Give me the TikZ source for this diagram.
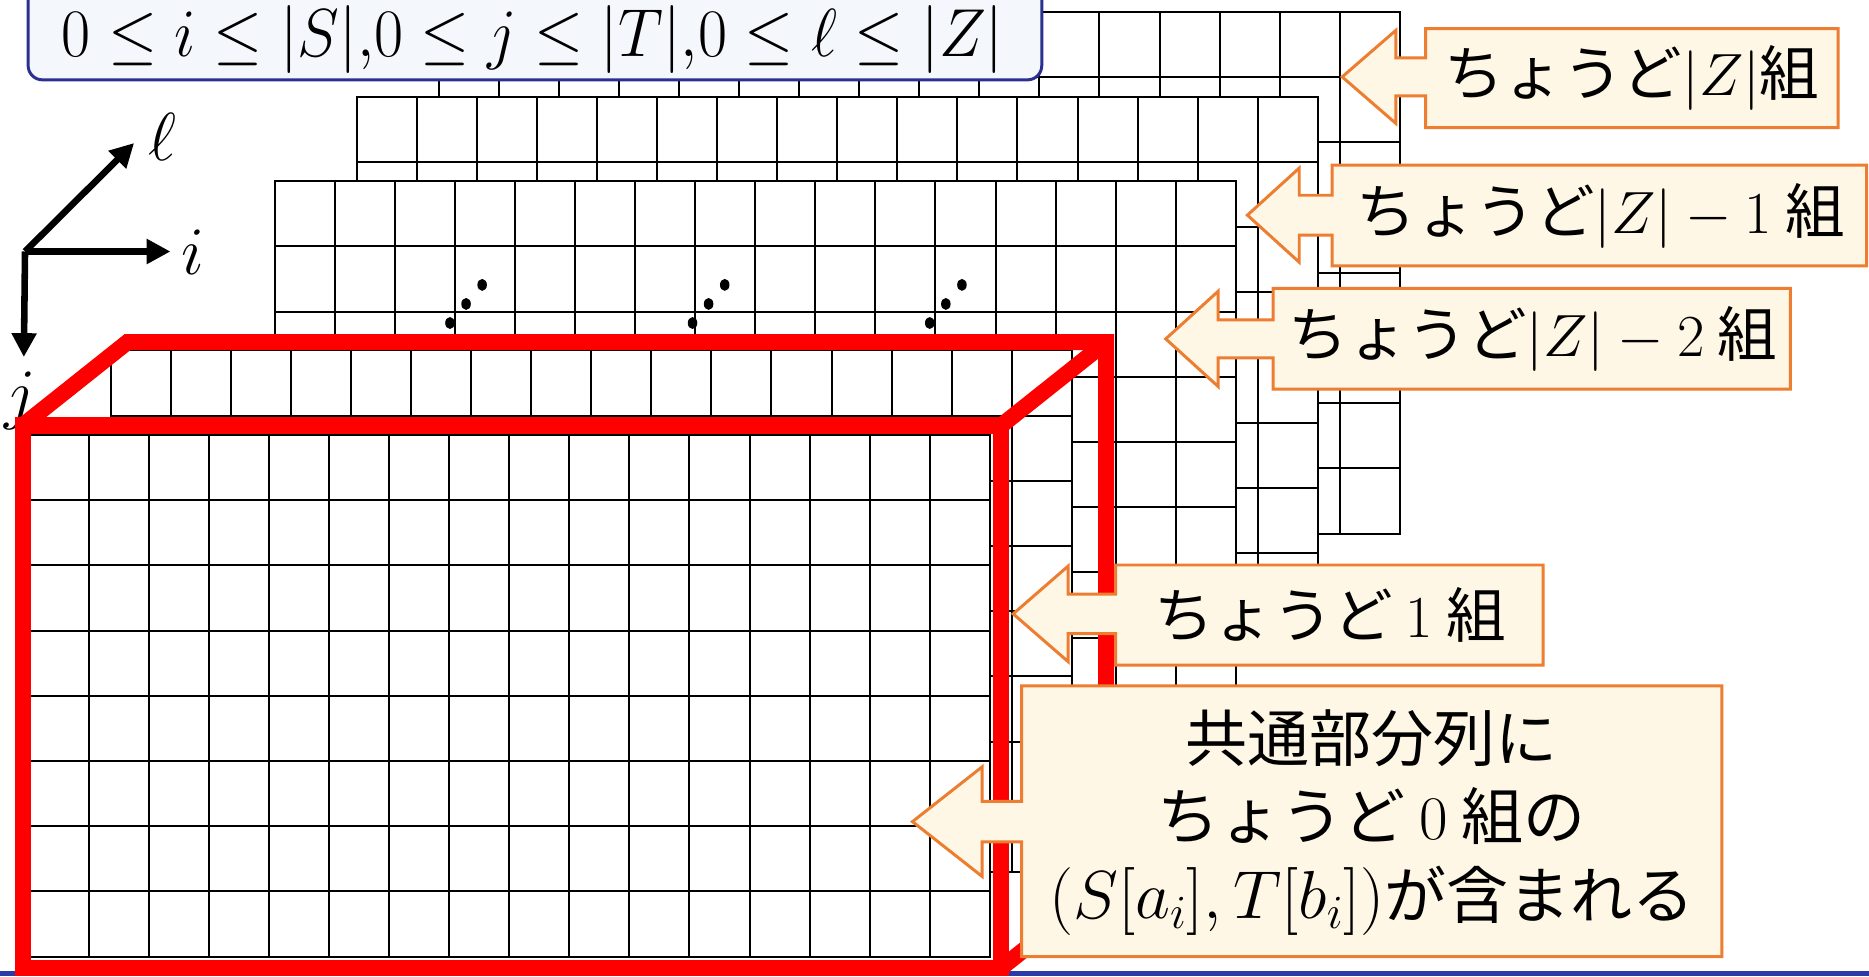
\RequirePackage{fix-cm}
\documentclass[tikz,border=0pt]{standalone}
\usepackage{fontspec}
\usepackage{graphicx}
\newfontfamily\jp{Noto Sans CJK JP}
\usetikzlibrary{arrows.meta}
\definecolor{navy}{HTML}{2B2F8F}
\definecolor{boxfill}{HTML}{F4F7FB}
\definecolor{cream}{HTML}{FFF7E5}
\definecolor{orng}{HTML}{ED7D31}
\definecolor{footblue}{HTML}{2C3AA8}
\newcommand\gridlayer[1]{%
  \begin{scope}[shift={({24+68.8*#1},{365-71*#1})}]
    \fill[white] (0,0) rectangle (806.4,437.6);
    \foreach \c in {1,...,15} \draw[gridline] ({50.4*\c},0) -- ({50.4*\c},437.6);
    \foreach \r in {1,...,7} \draw[gridline] (0,{54.7*\r}) -- (806.4,{54.7*\r});
    \draw[gridline] (0,0) rectangle (806.4,437.6);
  \end{scope}}
\newcommand\leftcallout[9]{% x1 y1 x2 y2 tipx tipy headx headhalf shafthalf
  \filldraw[calloutshape] (#1,#2) -- (#3,#2) -- (#3,#4) -- (#1,#4) -- (#1,{#6+#9}) -- (#7,{#6+#9}) -- (#7,{#6+#8}) -- (#5,#6) -- (#7,{#6-#8}) -- (#7,{#6-#9}) -- (#1,{#6-#9}) -- cycle;}
\begin{document}
\begin{tikzpicture}[x=1pt,y=-1pt,
  gridline/.style={line width=1.7pt,black},
  redbox/.style={line width=13.5pt,red,line join=miter},
  axis/.style={line width=5.5pt,black,-{Triangle[length=20pt,width=20pt]}},
  calloutshape/.style={fill=cream,draw=orng,line width=2.5pt,line join=miter},
  lbl/.style={inner sep=0pt,font=\jp\fontsize{50}{60}\selectfont},
  axlbl/.style={inner sep=0pt,font=\fontsize{57}{60}\selectfont},
  dotmark/.style={fill=black}]
\useasboundingbox (0,0) rectangle (1568,819);
% footer band
\fill[footblue] (0,815) rectangle (1568,819);
% layers back to front
\gridlayer{5}
\gridlayer{4}
\gridlayer{3}
\foreach \dx in {0,203.5,402.5}{
  \fill[dotmark] ({377.5+\dx},271) ellipse [x radius=4, y radius=5];
  \fill[dotmark] ({391+\dx},255) ellipse [x radius=4, y radius=5];
  \fill[dotmark] ({404.5+\dx},239) ellipse [x radius=4, y radius=5];
}
\gridlayer{1}
\gridlayer{0}
% top range box
\filldraw[fill=boxfill,draw=navy,line width=2.5pt,rounded corners=12pt] (23.6,-20) rectangle (874,67);
\node[anchor=base,inner sep=0pt,font=\fontsize{57}{60}\selectfont] (range) at (446.8,47)
  {\scalebox{0.93}[1]{$0\le i\le |S|{,}0\le j\le |T|{,}0\le \ell\le |Z|$}};
% axes
\coordinate (O) at (21,211);
\coordinate (iend) at (143,211);
\coordinate (lend) at (112.5,120);
\coordinate (jend) at (20,299.5);
\node[axlbl] (ilab) at (162,212) {$i$};
\node[axlbl] (llab) at (136,115) {$\ell$};
\node[axlbl,anchor=base] (jlab) at (17,349) {$j$};
\draw[axis] (O) -- (iend);
\draw[axis] (O) -- (lend);
\draw[axis] (O) -- (jend);
% red box
\coordinate (FTL) at (19,357);
\coordinate (FTR) at (840,357);
\coordinate (FBR) at (840,812);
\coordinate (FBL) at (19,812);
\coordinate (BTL) at (107,287);
\coordinate (BTR) at (928,287);
\coordinate (BBR) at (928,742);
\draw[redbox] (FTL) -- (FTR) -- (FBR) -- (FBL) -- cycle;
\draw[redbox] (FTL) -- (BTL) -- (BTR) -- (BBR);
\draw[redbox] (FTR) -- (BTR);
\draw[redbox] (FBR) -- (BBR);
% callouts
\leftcallout{1196}{24}{1542}{107}{1126}{64.5}{1171}{39}{16}
\node[lbl] (c1) at (1369,65.5) {ちょうど$|Z|$組};
\leftcallout{1117.5}{138.5}{1566}{223}{1046.5}{180.5}{1090}{39.5}{16.7}
\node[lbl] (c2) at (1343,181) {ちょうど$|Z|-1$ 組};
\leftcallout{1068}{242}{1502}{326.5}{978}{284.3}{1022}{40}{16}
\node[lbl] (c3) at (1286,284.5) {ちょうど$|Z|-2$ 組};
\leftcallout{936}{474}{1294.5}{558}{850}{515}{896}{40}{16.5}
\node[lbl] (c4) at (1116,516) {ちょうど $1$ 組};
\leftcallout{857}{575.5}{1444.5}{802.5}{765.5}{689.3}{824}{46}{17}
\node[lbl,align=center,font=\jp\fontsize{52}{66}\selectfont] (c5) at (1150.8,690)
  {共通部分列に\\ちょうど $0$ 組の\\{\fontsize{57}{66}\selectfont$(S[a_i],T[b_i])$}が含まれる};
\end{tikzpicture}
\end{document}
